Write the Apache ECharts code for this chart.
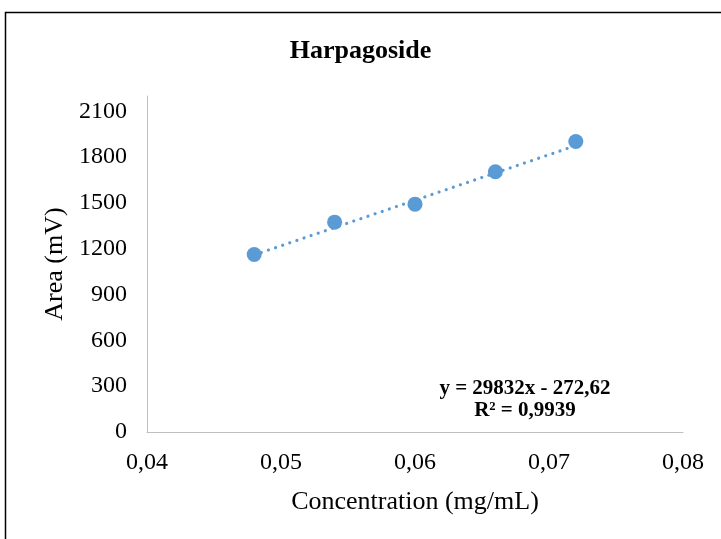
<!DOCTYPE html>
<html><head><meta charset="utf-8">
<script src="https://cdn.jsdelivr.net/npm/echarts@6/dist/echarts.min.js"></script>
<style>html,body{margin:0;padding:0;background:#fff}#c{width:721px;height:539px}</style>
</head><body><div id="c"></div>
<script>
const concentration = [0.048, 0.054, 0.060, 0.066, 0.072];
const area = [1162, 1374, 1492, 1704, 1902];
const trendX = [0.048, 0.072];
const trendY = [1159.3, 1875.3];
const titleText = 'Harpagoside';
const equationText = 'y = 29832x - 272,62';
const r2Text = 'R² = 0,9939';
const xAxisName = 'Concentration (mg/mL)';
const yAxisName = 'Area (mV)';

const FONT = '"Liberation Serif","Times New Roman",serif';
const chart = echarts.init(document.getElementById('c'), null, {renderer: 'canvas'});
chart.setOption({
  backgroundColor: '#fff',
  animation: false,
  title: {text: titleText, left: 'center', top: 33,
    textStyle: {fontFamily: FONT, fontWeight: 'bold', fontSize: 26, color: '#000'}},
  grid: {left: 147, right: 38, top: 96, bottom: 107},
  xAxis: {type: 'value', min: 0.04, max: 0.08, interval: 0.01,
    name: xAxisName, nameLocation: 'middle', nameGap: 57,
    nameTextStyle: {fontFamily: FONT, fontSize: 26, color: '#000'},
    axisLine: {show: true, lineStyle: {color: '#BFBFBF', width: 1}},
    axisTick: {show: false}, splitLine: {show: false},
    axisLabel: {fontFamily: FONT, fontSize: 24, color: '#000', margin: 19,
      formatter: v => v.toFixed(2).replace('.', ',')}},
  yAxis: {type: 'value', min: 0, max: 2200, interval: 300,
    name: yAxisName, nameLocation: 'middle', nameGap: 76, nameRotate: 90,
    nameTextStyle: {fontFamily: FONT, fontSize: 26, color: '#000'},
    axisLine: {show: true, lineStyle: {color: '#BFBFBF', width: 1}},
    axisTick: {show: false}, splitLine: {show: false},
    axisLabel: {fontFamily: FONT, fontSize: 24, color: '#000', margin: 20, showMaxLabel: false,
      formatter: v => (v % 300 === 0 ? String(v) : '')}},
  series: [
    {type: 'line', data: trendX.map((x, i) => [x, trendY[i]]), symbol: 'none',
      lineStyle: {color: '#5B9BD5', width: 3.2, type: [0.01, 7.5], cap: 'round'}, z: 1},
    {type: 'scatter', data: concentration.map((x, i) => [x, area[i]]), symbolSize: 15,
      itemStyle: {color: '#5B9BD5', opacity: 1}, z: 2}
  ],
  graphic: [
    {type: 'rect', shape: {x: 5.5, y: 12.5, width: 730, height: 540},
      style: {fill: 'none', stroke: '#000', lineWidth: 1.5}, silent: true},
    {type: 'text', x: 525, y: 389, style: {text: equationText, align: 'center', verticalAlign: 'middle',
      font: 'bold 21px ' + FONT, fill: '#000'}},
    {type: 'text', x: 525, y: 411, style: {text: r2Text, align: 'center', verticalAlign: 'middle',
      font: 'bold 21px ' + FONT, fill: '#000'}}
  ]
});
</script></body></html>
